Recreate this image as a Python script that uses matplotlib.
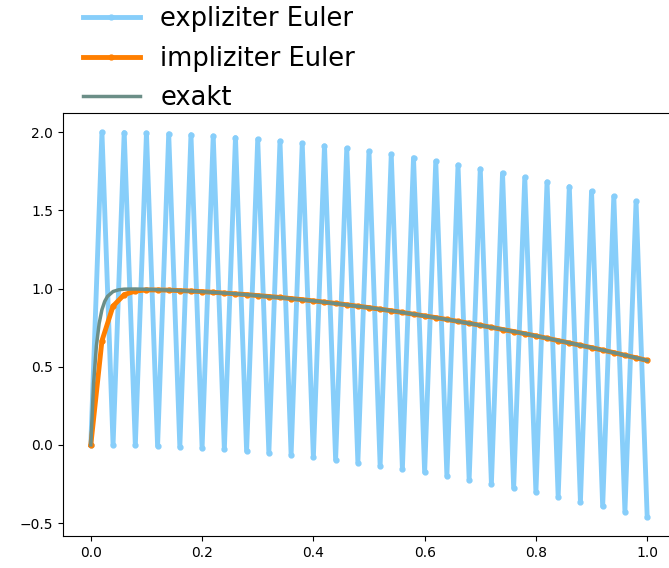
import matplotlib
matplotlib.use("Agg")
import matplotlib.pyplot as plt

# time grid of the Euler methods (h = 0.02)
t = [0.00, 0.02, 0.04, 0.06, 0.08, 0.10, 0.12, 0.14, 0.16, 0.18,
     0.20, 0.22, 0.24, 0.26, 0.28, 0.30, 0.32, 0.34, 0.36, 0.38,
     0.40, 0.42, 0.44, 0.46, 0.48, 0.50, 0.52, 0.54, 0.56, 0.58,
     0.60, 0.62, 0.64, 0.66, 0.68, 0.70, 0.72, 0.74, 0.76, 0.78,
     0.80, 0.82, 0.84, 0.86, 0.88, 0.90, 0.92, 0.94, 0.96, 0.98, 1.00]

y_explicit = [0.000, 2.000, -0.001, 1.998, -0.003, 1.995, -0.007, 1.990, -0.013, 1.984,
              -0.020, 1.976, -0.029, 1.966, -0.039, 1.955, -0.051, 1.943, -0.064, 1.929,
              -0.079, 1.913, -0.095, 1.896, -0.113, 1.878, -0.132, 1.858, -0.153, 1.837,
              -0.175, 1.814, -0.198, 1.790, -0.222, 1.765, -0.248, 1.739, -0.275, 1.711,
              -0.303, 1.682, -0.333, 1.652, -0.363, 1.622, -0.394, 1.590, -0.427, 1.557,
              -0.460]

y_implicit = [0.000, 0.666, 0.888, 0.961, 0.984, 0.991, 0.991, 0.990, 0.987, 0.984,
              0.980, 0.976, 0.971, 0.966, 0.961, 0.955, 0.949, 0.943, 0.936, 0.929,
              0.921, 0.913, 0.905, 0.896, 0.887, 0.878, 0.868, 0.858, 0.847, 0.836,
              0.825, 0.814, 0.802, 0.790, 0.778, 0.765, 0.752, 0.738, 0.725, 0.711,
              0.697, 0.682, 0.667, 0.652, 0.637, 0.622, 0.606, 0.590, 0.573, 0.557,
              0.540]

# exact solution on a finer grid
t_exact = [0.000, 0.005, 0.010, 0.015, 0.020, 0.025, 0.030, 0.040, 0.050, 0.060,
           0.080, 0.100, 0.150, 0.200, 0.250, 0.300, 0.350, 0.400, 0.450, 0.500,
           0.550, 0.600, 0.650, 0.700, 0.750, 0.800, 0.850, 0.900, 0.950, 1.000]
y_exact = [0.000, 0.394, 0.632, 0.777, 0.865, 0.918, 0.950, 0.981, 0.992, 0.996,
           0.997, 0.995, 0.989, 0.980, 0.969, 0.955, 0.939, 0.921, 0.900, 0.878,
           0.853, 0.825, 0.796, 0.765, 0.732, 0.697, 0.660, 0.622, 0.582, 0.540]

fig = plt.figure(figsize=(6.69, 5.68), dpi=100)
ax = fig.add_axes([63 / 669, 1 - 536 / 568, 612 / 669, 423 / 568])

ax.plot(t, y_explicit, ".-", color="#87cefa", lw=3.5, ms=7, label="expliziter Euler")
ax.plot(t, y_implicit, ".-", color="#ff7f00", lw=3.5, ms=7, label="impliziter Euler")
ax.plot(t_exact, y_exact, "-", color="#6b8e87", lw=2.5, label="exakt")

ax.legend(loc="lower left", bbox_to_anchor=(0.016, 0.98), frameon=False,
          fontsize=18.5, numpoints=1, handlelength=2.2, labelspacing=0.52,
          borderaxespad=0.0)

fig.savefig("out.png", dpi=100)
